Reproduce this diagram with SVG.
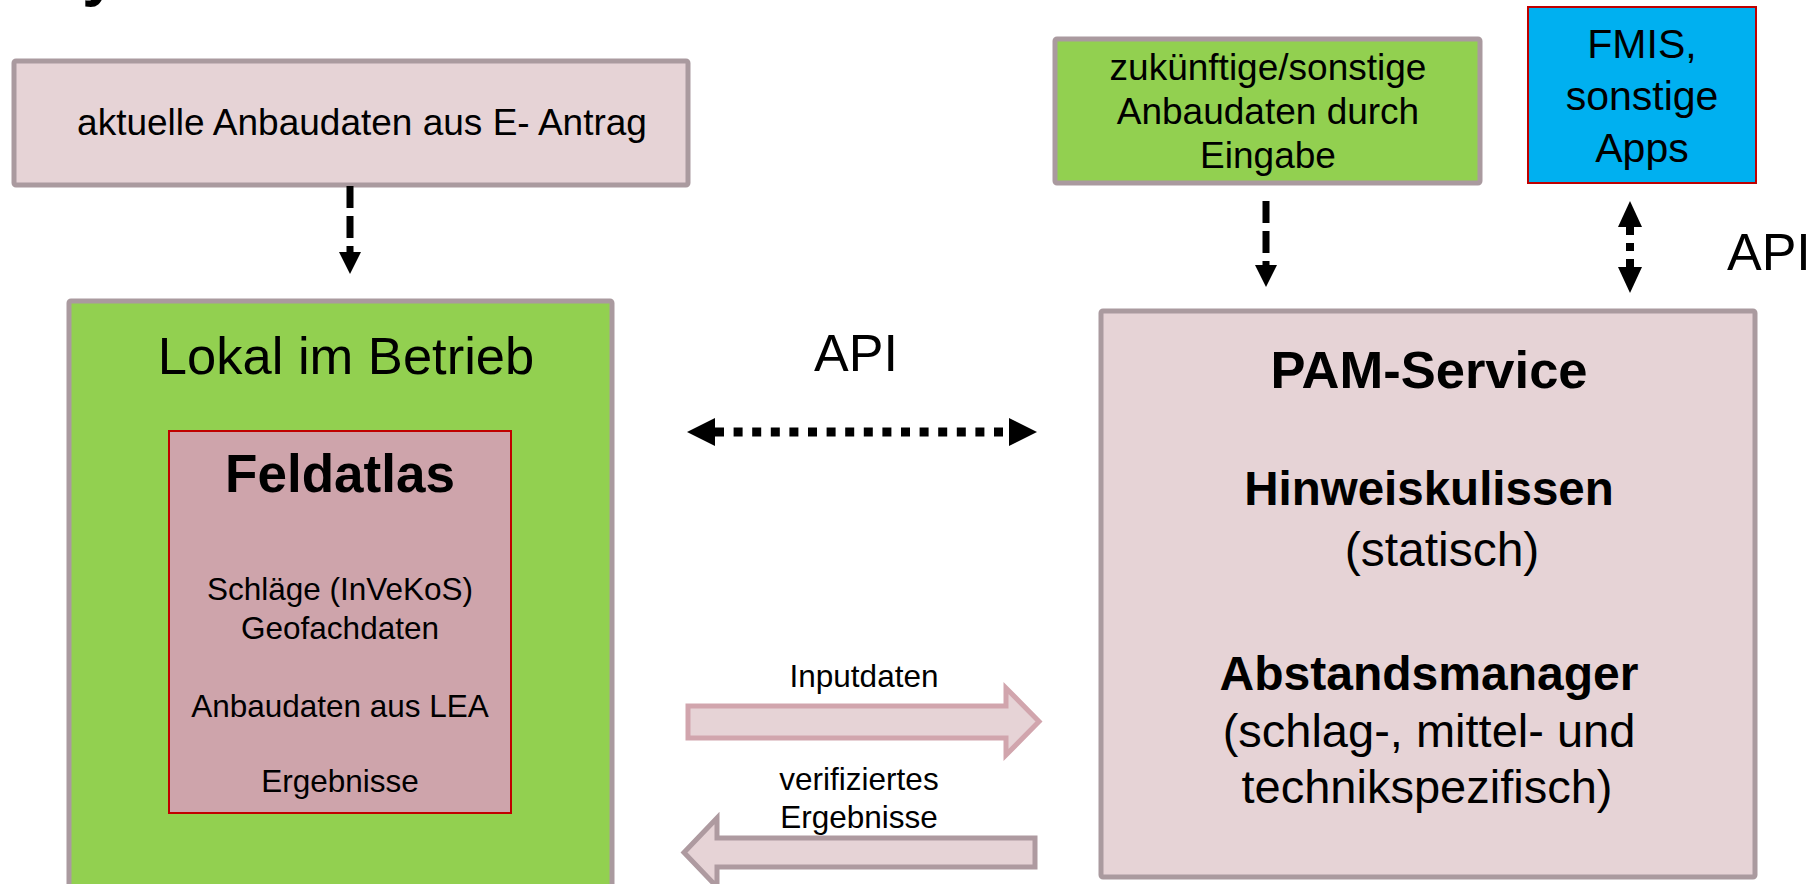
<svg xmlns="http://www.w3.org/2000/svg" width="1814" height="884" viewBox="0 0 1814 884">
  <style>
    text { font-family: "Liberation Sans", Arial, sans-serif; fill: #000; }
    .c { text-anchor: middle; }
    .b { font-weight: bold; }
    .pink { fill: #E6D3D6; stroke: #AA9A9F; stroke-width: 5; }
    .green { fill: #92D050; stroke: #AA9A9F; stroke-width: 5; }
    .feld { fill: #CEA4AB; stroke: #C00000; stroke-width: 2; }
    .fmis { fill: #00B0F0; stroke: #C00000; stroke-width: 2; }
    .dash { fill: none; stroke: #000; stroke-width: 7; stroke-dasharray: 22 8; }
    .dot { fill: none; stroke: #000; stroke-width: 8; stroke-dasharray: 8 8; }
    .dot2 { fill: none; stroke: #000; stroke-width: 9; stroke-dasharray: 9 9.6; }
    .blockIn { fill: #E6D3D6; stroke: #D1A5AD; stroke-width: 5; }
    .blockOut { fill: #E6D3D6; stroke: #AE9AA0; stroke-width: 5; }
  </style>
  <defs>
    <marker id="ah" markerUnits="userSpaceOnUse" viewBox="0 0 22 22" refX="0" refY="11" markerWidth="22" markerHeight="22" orient="auto">
      <path d="M0,0 L22,11 L0,22 z" fill="#000"/>
    </marker>
    <marker id="ah2" markerUnits="userSpaceOnUse" viewBox="0 0 26 24" refX="0" refY="12" markerWidth="26" markerHeight="24" orient="auto-start-reverse">
      <path d="M0,0 L26,12 L0,24 z" fill="#000"/>
    </marker>
    <marker id="ah3" markerUnits="userSpaceOnUse" viewBox="0 0 28 28" refX="0" refY="14" markerWidth="28" markerHeight="28" orient="auto-start-reverse">
      <path d="M0,0 L28,14 L0,28 z" fill="#000"/>
    </marker>
  </defs>

  <text class="b" x="82" y="-6" font-size="64">y</text>

  <g id="node-eantrag">
    <rect class="pink" x="14" y="61" width="674" height="124" rx="2"/>
    <text class="c" x="362" y="135" font-size="37">aktuelle Anbaudaten aus E- Antrag</text>
  </g>

  <g id="node-lokal">
    <rect class="green" x="69" y="301" width="543" height="620" rx="2"/>
    <text class="c" x="346" y="374" font-size="52.5">Lokal im Betrieb</text>
  </g>

  <g id="node-feldatlas">
    <rect class="feld" x="169" y="431" width="342" height="382"/>
    <text class="c b" x="340" y="492" font-size="53">Feldatlas</text>
    <text class="c" x="340" y="600" font-size="31.5">Schläge (InVeKoS)</text>
    <text class="c" x="340" y="638.5" font-size="31.5">Geofachdaten</text>
    <text class="c" x="340" y="716.5" font-size="31.5">Anbaudaten aus LEA</text>
    <text class="c" x="340" y="792" font-size="31.5">Ergebnisse</text>
  </g>

  <g id="node-zukuenftig">
    <rect class="green" x="1055" y="39" width="425" height="144" rx="2"/>
    <text class="c" x="1268" y="80" font-size="37">zukünftige/sonstige</text>
    <text class="c" x="1268" y="124" font-size="37">Anbaudaten durch</text>
    <text class="c" x="1268" y="168" font-size="37">Eingabe</text>
  </g>

  <g id="node-fmis">
    <rect class="fmis" x="1528" y="7" width="228" height="176"/>
    <text class="c" x="1642" y="58" font-size="41">FMIS,</text>
    <text class="c" x="1642" y="110" font-size="41">sonstige</text>
    <text class="c" x="1642" y="162" font-size="41">Apps</text>
  </g>

  <g id="node-pam">
    <rect class="pink" x="1101" y="311" width="654" height="566" rx="2"/>
    <text class="c b" x="1429" y="388" font-size="52.5">PAM-Service</text>
    <text class="c b" x="1429" y="505" font-size="47.5">Hinweiskulissen</text>
    <text class="c" x="1442" y="566" font-size="48">(statisch)</text>
    <text class="c b" x="1429" y="690" font-size="48">Abstandsmanager</text>
    <text class="c" x="1429" y="747" font-size="47">(schlag-, mittel- und</text>
    <text class="c" x="1427" y="803" font-size="47">technikspezifisch)</text>
  </g>

  <g id="connectors">
    <path class="dash" d="M350,186 L350,252" marker-end="url(#ah)"/>
    <path class="dash" d="M1266,201 L1266,265" marker-end="url(#ah)"/>
    <path class="dot" d="M1630,227 L1630,267" marker-start="url(#ah2)" marker-end="url(#ah2)"/>
    <path class="dot2" d="M715,432 L1009,432" marker-start="url(#ah3)" marker-end="url(#ah3)"/>
    <polygon class="blockIn" points="688,706 1006,706 1006,688 1039,721.5 1006,755 1006,738 688,738"/>
    <polygon class="blockOut" points="1035,838 717,838 717,818 684,852.5 717,887 717,867 1035,867"/>
    <text class="c" x="856" y="371" font-size="52">API</text>
    <text x="1727" y="270" font-size="52">API</text>
    <text class="c" x="864" y="687" font-size="31.5">Inputdaten</text>
    <text class="c" x="859" y="790" font-size="31.5">verifiziertes</text>
    <text class="c" x="859" y="828" font-size="31.5">Ergebnisse</text>
  </g>
</svg>
